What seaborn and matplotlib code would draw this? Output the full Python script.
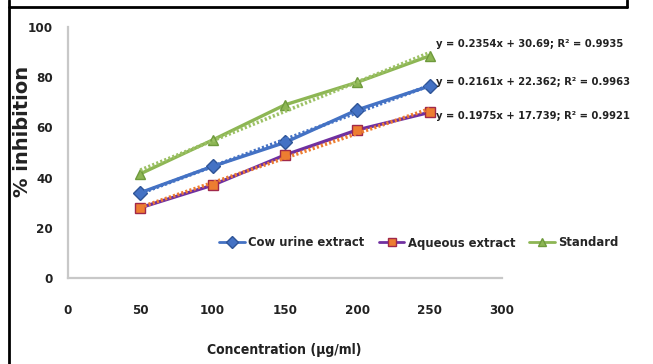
import numpy as np
import pandas as pd
import seaborn as sns
import matplotlib.pyplot as plt
from matplotlib.lines import Line2D

# data
conc = [50, 100, 150, 200, 250]
cow_urine = [34, 44.5, 54, 67, 76.5]
aqueous = [28, 37, 49, 59, 66]
standard = [41.5, 55, 69, 78, 88.5]
equations = [
    "y = 0.2354x + 30.69; R² = 0.9935",
    "y = 0.2161x + 22.362; R² = 0.9963",
    "y = 0.1975x + 17.739; R² = 0.9921",
]
x_ticks = [0, 50, 100, 150, 200, 250, 300]
y_ticks = [0, 20, 40, 60, 80, 100]

sns.set_style("white")
plt.rcParams["font.family"] = ["DejaVu Sans"]
plt.rcParams["font.stretch"] = "condensed"

df = pd.DataFrame({"conc": conc, "Cow urine extract": cow_urine,
                   "Aqueous extract": aqueous, "Standard": standard})

fig = plt.figure(figsize=(6.53, 3.64), dpi=100)
ax = fig.add_axes([68 / 653, 1 - 278 / 364, (502 - 68) / 653, (278 - 27) / 364])

# series: name, line colour, marker, face, edge, trendline colour
series = [
    ("Cow urine extract", "#4472C4", "D", "#4472C4", "#2F5597", "#4472C4"),
    ("Aqueous extract", "#7030A0", "s", "#ED7D31", "#A0284A", "#ED7D31"),
    ("Standard", "#8DB654", "^", "#8DB654", "#6E9A3C", "#9CC165"),
]

handles = []
for name, lc, mk, fc, ec, tc in series:
    sns.lineplot(data=df, x="conc", y=name, ax=ax, color=lc, lw=2.4,
                 marker=mk, markersize=7, markerfacecolor=fc,
                 markeredgecolor=ec, markeredgewidth=1.0)
    sns.regplot(data=df, x="conc", y=name, ax=ax, scatter=False, ci=None,
                truncate=True,
                line_kws=dict(color=tc, lw=2.6, ls=(0, (0.6, 0.6)), zorder=3))
    handles.append(Line2D([], [], color=lc, lw=2, marker=mk, markersize=6,
                          markerfacecolor=fc, markeredgecolor=ec, label=name))

ax.set_xlim(0, 300)
ax.set_ylim(0, 100)
ax.set_xticks(x_ticks)
ax.set_yticks(y_ticks)
ax.tick_params(axis="x", pad=19, labelsize=9.5, length=0, colors="#222222")
ax.tick_params(axis="y", pad=11, labelsize=9.5, length=0, colors="#222222")
for lab in ax.get_xticklabels() + ax.get_yticklabels():
    lab.set_fontweight("bold")

sns.despine(ax=ax)
for s in ["left", "bottom"]:
    ax.spines[s].set_color("#C8C8C8")
    ax.spines[s].set_linewidth(1.6)

ax.set_xlabel("Concentration (µg/ml)", fontsize=10, fontweight="bold",
              color="#222222")
ax.xaxis.set_label_coords((284 - 68) / 434, -(350 - 278) / 251)
ax.xaxis.label.set_va("center")
ax.set_ylabel("% inhibition", fontsize=14, fontweight="bold",
              fontstretch="normal", color="#222222")
ax.yaxis.set_label_coords(-(68 - 32) / 434, (278 - 131) / 251)

# trendline equations
for txt, yp in zip(equations, [44, 82, 116]):
    fig.text(436 / 653, 1 - yp / 364, txt, fontsize=8.0, fontweight="bold",
             color="#222222", va="center", ha="left")

fig.legend(handles=handles, loc="center", ncol=3, frameon=False,
           bbox_to_anchor=(419 / 653, 1 - 243 / 364),
           handlelength=2.0, handletextpad=0.25, columnspacing=1.1,
           prop={"weight": "bold", "size": 9.3, "stretch": "condensed"})

# border of the cropped table
fig.add_artist(Line2D([8.5 / 653, 8.5 / 653], [0, 1], color="black", lw=2,
                      transform=fig.transFigure))
fig.add_artist(Line2D([8.5 / 653, 627 / 653], [1 - 7 / 364, 1 - 7 / 364],
                      color="black", lw=2, transform=fig.transFigure))
fig.add_artist(Line2D([627 / 653, 627 / 653], [1 - 7 / 364, 1], color="black",
                      lw=2, transform=fig.transFigure))

fig.savefig("out.png", dpi=100)
